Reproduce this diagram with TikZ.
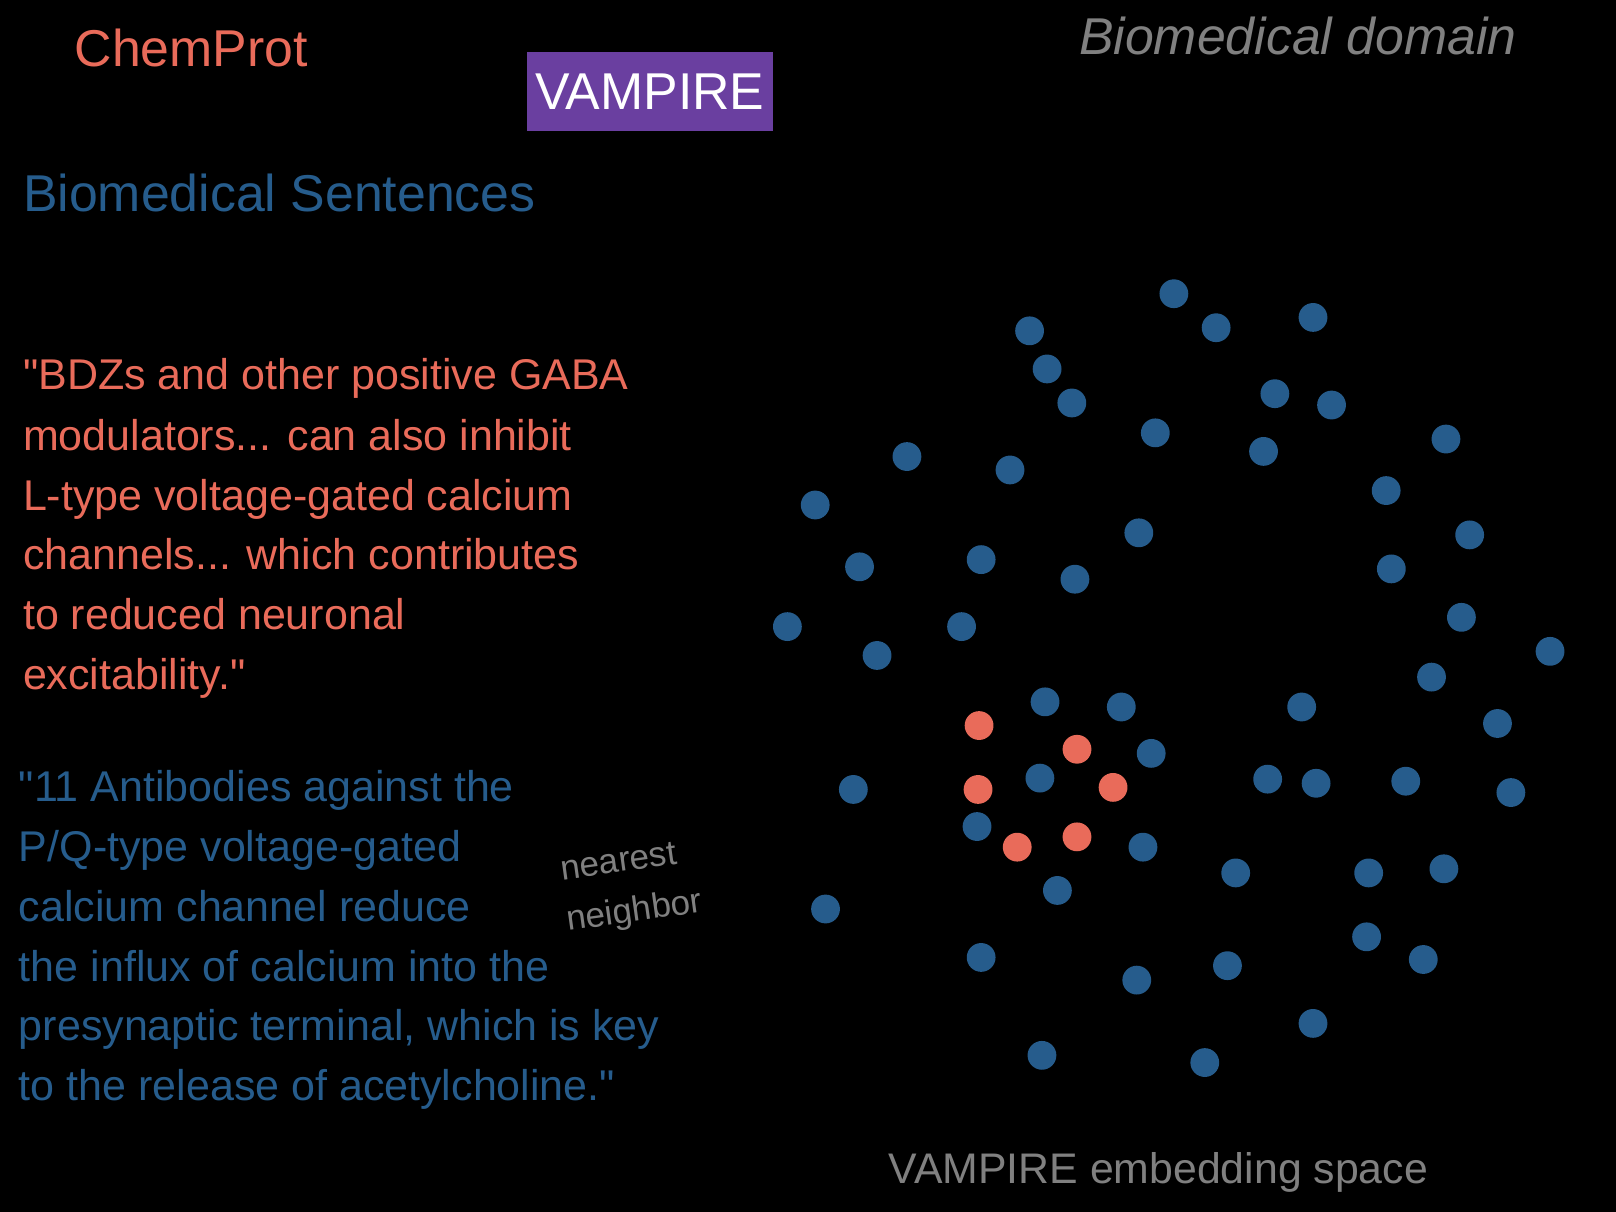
\documentclass[tikz,border=0pt]{standalone}
\usepackage{fontspec}
\setmainfont{Liberation Sans}
\newfontfamily\qfont{Liberation Sans}
\newcommand\sq{{\qfont"}}
\definecolor{cblue}{HTML}{265C8C}
\definecolor{cred}{HTML}{E96B5A}
\definecolor{cpurple}{HTML}{6A3FA0}
\definecolor{cgray}{HTML}{808080}
\tikzset{
  big/.style={font=\fontsize{25.9}{31}\selectfont, inner sep=0pt},
  body/.style={font=\fontsize{21.5}{30}\selectfont, inner sep=0pt, anchor=base west},
  nn/.style={font=\fontsize{17.5}{21}\selectfont, inner sep=0pt, anchor=base, text=cgray, rotate=8},
  dotb/.style={circle, fill=cblue, minimum size=14.4pt, inner sep=0pt},
  dotr/.style={circle, fill=cred, minimum size=14.4pt, inner sep=0pt},
}
\begin{document}
\begin{tikzpicture}[x=0.5153pt,y=-0.5153pt]
\fill[black] (0,0) rectangle (1568,1176);
\useasboundingbox (0,0) rectangle (1568,1176);
% titles
\node[big, text=cred, anchor=base west] (chem) at (72,65) {ChemProt};
\node[fill=cpurple, minimum width=239*0.5153pt, minimum height=77*0.5153pt, inner sep=0pt] (vbox) at (630.5,88.5) {};
\node[big, text=white, anchor=base] (vtxt) at (630.5,106) {VAMPIRE};
\node[big, text=cblue, anchor=base west] (sent) at (22,205) {Biomedical Sentences};
\node[big, text=cgray, anchor=base east, font=\fontsize{25.9}{31}\selectfont\itshape] (dom) at (1472,53) {Biomedical domain};
% red sentence
\begin{scope}[every node/.style={body, text=cred}]
\node (r1) at (22,378) {\sq BDZs and other positive GABA};
\node (r2) at (22,437) {modulators... can also inhibit};
\node (r3) at (22,495) {L-type voltage-gated calcium};
\node (r4) at (22,553) {channels... which contributes};
\node (r5) at (22,611) {to reduced neuronal};
\node (r6) at (22,669) {excitability.\sq};
\end{scope}
% blue sentence
\begin{scope}[every node/.style={body, text=cblue}]
\node (s1) at (18,778) {\sq 11 Antibodies against the};
\node (s2) at (18,836) {P/Q-type voltage-gated};
\node (s3) at (18,894) {calcium channel reduce};
\node (s4) at (18,952) {the influx of calcium into the};
\node (s5) at (18,1010) {presynaptic terminal, which is key};
\node (s6) at (18,1068) {to the release of acetylcholine.\sq};
\end{scope}
\node[nn] (nn1) at (601.6,846) {nearest};
\node[nn] (nn2) at (616.8,894) {neighbor};
\node[font=\fontsize{21.4}{26}\selectfont, inner sep=0pt, anchor=base west, text=cgray] (emb) at (862,1148) {VAMPIRE embedding space};
% blue dots
\foreach \x/\y [count=\i] in {1139/285,1180/318,1274/308,999/321,1016/358,1040/391,1237/382,1292/393,1121/420,1226/438,1403/426,880/443,980/456,791/490,1345/476,1105/517,1426/519,834/550,952/543,1043/562,1350/552,764/608,933/608,851/636,1418/599,1504/632,1389/657,1014/681,1088/686,1263/686,1453/702,1117/731,828/766,1009/755,1230/756,1277/760,1364/758,1466/769,948/802,1109/822,1199/847,1328/847,1401/843,1026/864,801/882,1326/909,952/929,1381/931,1103/951,1191/937,1274/993,1011/1024,1169/1031}
  \node[dotb] (b\i) at (\x,\y) {};
% red dots
\foreach \x/\y [count=\i] in {950/704,1045/727,949/766,1080/764,1045/812,987/822}
  \node[dotr] (r\i dot) at (\x,\y) {};
\end{tikzpicture}
\end{document}
